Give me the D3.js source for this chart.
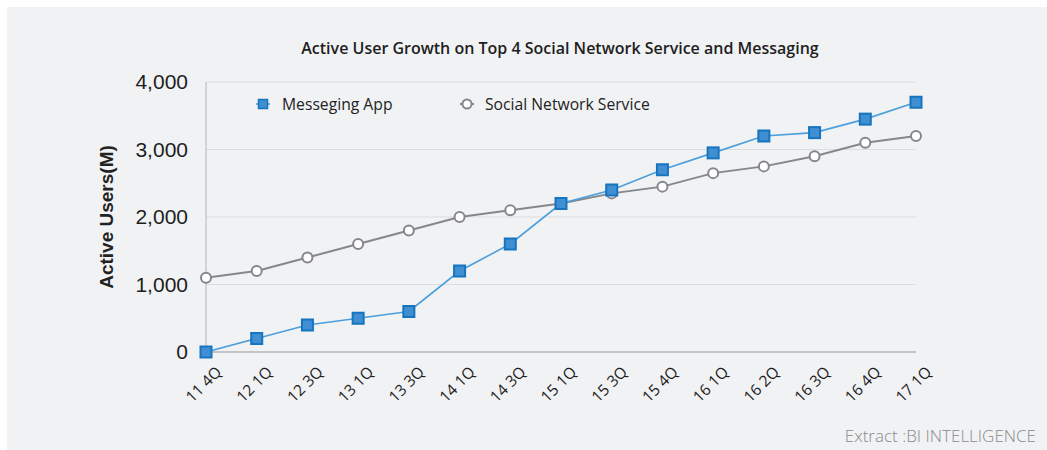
<!DOCTYPE html>
<html><head><meta charset="utf-8">
<script src="https://cdn.jsdelivr.net/npm/d3@7"></script>
<style>body{margin:0;background:#fff}</style>
</head><body>
<svg id="c" width="1047" height="450"></svg>
<script>
const categories = ["11 4Q","12 1Q","12 3Q","13 1Q","13 3Q","14 1Q","14 3Q","15 1Q","15 3Q","15 4Q","16 1Q","16 2Q","16 3Q","16 4Q","17 1Q"];
const messagingApp = [0,200,400,500,600,1200,1600,2200,2400,2700,2950,3200,3250,3450,3700];
const socialNetwork = [1100,1200,1400,1600,1800,2000,2100,2200,2350,2450,2650,2750,2900,3100,3200];
const yTicks = [0,1000,2000,3000,4000];
const seriesNames = ["Messeging App","Social Network Service"];

const svg = d3.select("#c");
svg.append("rect").attr("x",7).attr("y",7).attr("width",1040).attr("height",443).attr("fill","#f1f2f4");

const x = d3.scalePoint().domain(categories).range([206,916]);
const y = d3.scaleLinear().domain([0,4000]).range([352,82]);

// grid
svg.append("g").selectAll("line").data(yTicks.filter(d=>d>0)).join("line")
  .attr("x1",206).attr("x2",916).attr("y1",d=>y(d)).attr("y2",d=>y(d))
  .attr("stroke","#dcdde0").attr("stroke-width",1);
svg.append("line").attr("x1",206).attr("x2",206).attr("y1",y(4000)).attr("y2",y(0)).attr("stroke","#b4b4b4").attr("stroke-width",1);
svg.append("line").attr("x1",206).attr("x2",916).attr("y1",y(0)).attr("y2",y(0)).attr("stroke","#c4c4c4").attr("stroke-width",2);

const yAxis = d3.axisLeft(y).tickValues(yTicks).tickFormat(d3.format(",")).tickSize(0).tickPadding(18);
const ga = svg.append("g").attr("transform","translate(206,0)").call(yAxis);
ga.select(".domain").remove();
ga.selectAll("text").attr("font-family","Liberation Sans, Arial, sans-serif").attr("font-size",21).attr("fill","#1e1e1e");

svg.append("text").attr("transform","translate(113,217) rotate(-90)").attr("text-anchor","middle")
  .attr("font-family","Liberation Sans, Arial, sans-serif").attr("font-weight","bold").attr("font-size",19).attr("fill","#222")
  .text("Active Users(M)");

const xAxis = d3.axisBottom(x).tickSize(0).tickPadding(0);
const gx = svg.append("g").attr("transform","translate(0,352)").call(xAxis);
gx.select(".domain").remove();
gx.selectAll("text").attr("text-anchor","end").attr("dy",0)
  .attr("transform","translate(16,21) rotate(-45)")
  .attr("font-family","Open Sans, sans-serif").attr("font-size",15.5).attr("fill","#1e1e1e");

svg.append("text").attr("x",560).attr("y",54).attr("text-anchor","middle")
  .attr("font-family","Open Sans, sans-serif").attr("font-weight",600).attr("font-size",16).attr("fill","#1e1e1e")
  .text("Active User Growth on Top 4 Social Network Service and Messaging");

const line = d3.line().x((d,i)=>x(categories[i])).y(d=>y(d));
svg.append("path").datum(socialNetwork).attr("d",line).attr("fill","none").attr("stroke","#85878b").attr("stroke-width",2);
svg.append("path").datum(messagingApp).attr("d",line).attr("fill","none").attr("stroke","#4a9fdc").attr("stroke-width",1.6);

svg.append("g").selectAll("circle").data(socialNetwork).join("circle")
  .attr("cx",(d,i)=>x(categories[i])).attr("cy",d=>y(d)).attr("r",5)
  .attr("fill","#fff").attr("stroke","#85878b").attr("stroke-width",2);
svg.append("g").selectAll("rect").data(messagingApp).join("rect")
  .attr("x",(d,i)=>x(categories[i])-5.5).attr("y",d=>y(d)-5.5).attr("width",11).attr("height",11)
  .attr("fill","#3f8fd2").attr("stroke","#1774bf").attr("stroke-width",2);

const lg = svg.append("g");
lg.append("line").attr("x1",256).attr("x2",270).attr("y1",104).attr("y2",104).attr("stroke","#4a9fdc").attr("stroke-width",1.6);
lg.append("rect").attr("x",258.5).attr("y",99.5).attr("width",9).attr("height",9).attr("fill","#3f8fd2").attr("stroke","#1774bf").attr("stroke-width",1.5);
lg.append("text").attr("x",282).attr("y",109.5).attr("font-family","Open Sans, sans-serif").attr("font-size",15.7).attr("fill","#222").text(seriesNames[0]);
lg.append("line").attr("x1",460).attr("x2",474).attr("y1",104).attr("y2",104).attr("stroke","#85878b").attr("stroke-width",2);
lg.append("circle").attr("cx",467).attr("cy",104).attr("r",4.5).attr("fill","#fff").attr("stroke","#85878b").attr("stroke-width",2);
lg.append("text").attr("x",485).attr("y",109.5).attr("font-family","Open Sans, sans-serif").attr("font-size",15.7).attr("fill","#222").text(seriesNames[1]);

svg.append("text").attr("x",1036).attr("y",442).attr("text-anchor","end")
  .attr("font-family","Open Sans, sans-serif").attr("font-weight",300).attr("font-size",17).attr("fill","#8a8a8a")
  .text("Extract :BI INTELLIGENCE");
</script>
</body></html>
